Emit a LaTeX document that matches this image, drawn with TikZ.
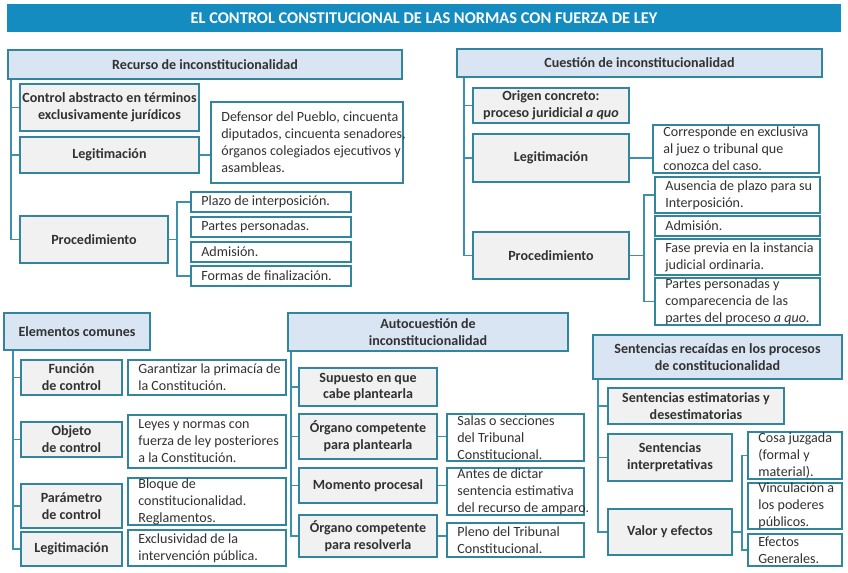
\documentclass[tikz,border=0pt]{standalone}
\usepackage{fontspec}
\setmainfont{Carlito}
\usetikzlibrary{calc}

\definecolor{ttlblue}{RGB}{20,140,192}
\definecolor{hdrblue}{RGB}{218,229,244}
\definecolor{keygray}{RGB}{241,241,241}
\definecolor{rimc}{RGB}{49,133,156}
\definecolor{wirec}{RGB}{62,145,172}
\definecolor{inkc}{RGB}{50,50,50}

\tikzset{
  cell/.style n args={4}{at={($(#1,#2)!0.5!(#3,#4)$)},
    minimum width={(#3-#1)*0.03cm}, minimum height={(#4-#2)*0.03cm}},
  box/.style={draw=rimc, line width=1.5pt, inner sep=0pt, align=center, text=inkc},
  ttl/.style={fill=ttlblue, inner sep=0pt, text=white, font=\fontsize{14}{16}\selectfont\bfseries},
  hdr/.style={box, fill=hdrblue, font=\fontsize{12}{14.5}\selectfont\bfseries},
  key/.style={box, fill=keygray, font=\fontsize{12}{14.5}\selectfont\bfseries},
  txt/.style={box, fill=white},
  note/.style={anchor=west, align=left, inner xsep=0.33cm, inner ysep=0pt, text=inkc, font=\fontsize{12}{14.5}\selectfont},
  wire/.style={draw=wirec, line width=1.2pt},
}

\begin{document}
\begin{tikzpicture}[x=0.03cm, y=-0.03cm]
  \useasboundingbox (0,0) rectangle (848,573);

  % title
  \node[ttl, cell={7}{4}{841}{32}] (ttl) {EL CONTROL CONSTITUCIONAL DE LAS NORMAS CON FUERZA DE LEY};

  % recurso de inconstitucionalidad
  \node[hdr, cell={8}{50}{402}{79}] (rec) {Recurso de inconstitucionalidad};
  \node[key, cell={20}{84}{199}{131}] (recabs) {Control abstracto en términos\\exclusivamente jurídicos};
  \node[key, cell={20}{137}{199}{173}] (recleg) {Legitimación};
  \node[txt, cell={211}{102}{403}{183}] (recdef) {};
  \node[note] (recdeft) at (recdef.west) {Defensor del Pueblo, cincuenta\\diputados, cincuenta senadores,\\órganos colegiados ejecutivos y\\asambleas.};
  \node[key, cell={20}{216}{168}{263}] (recproc) {Procedimiento};
  \node[txt, cell={191}{192}{351}{212}] (recplz) {};
  \node[note] (recplzt) at (recplz.west) {Plazo de interposición.};
  \node[txt, cell={191}{217}{351}{237}] (recpar) {};
  \node[note] (recpart) at (recpar.west) {Partes personadas.};
  \node[txt, cell={191}{242}{351}{262}] (recadm) {};
  \node[note] (recadmt) at (recadm.west) {Admisión.};
  \node[txt, cell={191}{266}{351}{286}] (recfin) {};
  \node[note] (recfint) at (recfin.west) {Formas de finalización.};

  \coordinate (rectr) at ($(rec.south west)+(4,0)$);
  \foreach \n in {recabs,recleg,recproc}
    \draw[wire] (rectr) |- (\n.west);
  \draw[wire] (recleg.east) -- (recleg.east -| recdef.west);
  \coordinate (recbr) at ($(recproc.east)+(8,0)$);
  \draw[wire] (recproc.east) -- (recbr);
  \draw[wire] (recplz.west) -| (recbr) |- (recfin.west);

  % cuestion de inconstitucionalidad
  \node[hdr, cell={457}{49}{822}{77}] (cue) {Cuestión de inconstitucionalidad};
  \node[key, cell={473}{88}{629}{123}] (cueori) {Origen concreto:\\proceso juridicial \textit{a quo}};
  \node[key, cell={473}{134}{629}{182}] (cueleg) {Legitimación};
  \node[txt, cell={653}{125}{819}{173}] (cuecor) {};
  \node[note] (cuecort) at (cuecor.west) {Corresponde en exclusiva\\al juez o tribunal que\\conozca del caso.};
  \node[key, cell={473}{232}{629}{279}] (cueproc) {Procedimiento};
  \node[txt, cell={655}{177}{820}{213}] (cueaus) {};
  \node[note] (cueaust) at (cueaus.west) {Ausencia de plazo para su\\Interposición.};
  \node[txt, cell={655}{216}{820}{236}] (cueadm) {};
  \node[note] (cueadmt) at (cueadm.west) {Admisión.};
  \node[txt, cell={655}{239}{820}{275}] (cuefas) {};
  \node[note] (cuefast) at (cuefas.west) {Fase previa en la instancia\\judicial ordinaria.};
  \node[txt, cell={655}{278}{820}{325}] (cuepar) {};
  \node[note] (cuepart) at (cuepar.west) {Partes personadas y\\comparecencia de las\\partes del proceso \textit{a quo}.};

  \coordinate (cuetr) at ($(cue.south west)+(8,0)$);
  \foreach \n in {cueori,cueleg,cueproc}
    \draw[wire] (cuetr) |- (\n.west);
  \draw[wire] (cueleg.east) -- (cueleg.east -| cuecor.west);
  \coordinate (cuebr) at ($(cueproc.east)+(14,0)$);
  \draw[wire] (cueproc.east) -- (cuebr);
  \draw[wire] (cueaus.west) -| (cuebr) |- (cuepar.west);

  % elementos comunes
  \node[hdr, cell={4}{313}{150}{350}] (elm) {Elementos comunes};
  \node[key, cell={21}{360}{122}{395}] (elmfun) {Función\\de control};
  \node[key, cell={21}{422}{122}{457}] (elmobj) {Objeto\\de control};
  \node[key, cell={21}{484}{122}{528}] (elmpar) {Parámetro\\de control};
  \node[key, cell={21}{532}{122}{566}] (elmleg) {Legitimación};
  \node[txt, cell={128}{360}{286}{395}] (elmgar) {};
  \node[note] (elmgart) at (elmgar.west) {Garantizar la primacía de\\la Constitución.};
  \node[txt, cell={128}{415}{286}{468}] (elmley) {};
  \node[note] (elmleyt) at (elmley.west) {Leyes y normas con\\fuerza de ley posteriores\\a la Constitución.};
  \node[txt, cell={128}{478}{286}{525}] (elmblo) {};
  \node[note] (elmblot) at (elmblo.west) {Bloque de\\constitucionalidad.\\Reglamentos.};
  \node[txt, cell={128}{530}{286}{566}] (elmexc) {};
  \node[note] (elmexct) at (elmexc.west) {Exclusividad de la\\intervención pública.};

  \coordinate (elmtr) at ($(elm.south west)+(10,0)$);
  \foreach \n in {elmfun,elmobj,elmpar,elmleg}
    \draw[wire] (elmtr) |- (\n.west);

  % autocuestion de inconstitucionalidad
  \node[hdr, cell={288}{313}{568}{351}] (aut) {Autocuestión de\\inconstitucionalidad};
  \node[key, cell={299}{368}{437}{406}] (autsup) {Supuesto en que\\cabe plantearla};
  \node[key, cell={299}{414}{437}{459}] (autpla) {Órgano competente\\para plantearla};
  \node[key, cell={299}{468}{437}{503}] (autmom) {Momento procesal};
  \node[key, cell={299}{515}{437}{557}] (autres) {Órgano competente\\para resolverla};
  \node[txt, cell={447}{414}{584}{461}] (autsal) {};
  \node[note] (autsalt) at (autsal.west) {Salas o secciones\\del Tribunal\\Constitucional.};
  \node[txt, cell={447}{468}{584}{515}] (autant) {};
  \node[note] (autantt) at (autant.west) {Antes de dictar\\sentencia estimativa\\del recurso de amparo.};
  \node[txt, cell={447}{523}{584}{557}] (autple) {};
  \node[note] (autplet) at (autple.west) {Pleno del Tribunal\\Constitucional.};

  \coordinate (auttr) at ($(aut.south west)+(4,0)$);
  \foreach \n in {autsup,autpla,autmom,autres}
    \draw[wire] (auttr) |- (\n.west);
  \draw[wire] (autpla.east) -- (autpla.east -| autsal.west);
  \draw[wire] (autmom.east) -- (autmom.east -| autant.west);
  \draw[wire] (autres.east) -- (autres.east -| autple.west);

  % sentencias
  \node[hdr, cell={593}{335}{842}{379}] (sen) {Sentencias recaídas en los procesos\\de constitucionalidad};
  \node[key, cell={608}{388}{784}{424}] (senest) {Sentencias estimatorias y\\desestimatorias};
  \node[key, cell={608}{434}{732}{481}] (senint) {Sentencias\\interpretativas};
  \node[key, cell={608}{509}{732}{555}] (senval) {Valor y efectos};
  \node[txt, cell={748}{432}{842}{479}] (sencos) {};
  \node[note] (sencost) at (sencos.west) {Cosa juzgada\\(formal y\\material).};
  \node[txt, cell={748}{483}{842}{529}] (senvin) {};
  \node[note] (senvint) at (senvin.west) {Vinculación a\\los poderes\\públicos.};
  \node[txt, cell={748}{534}{842}{566}] (senefe) {};
  \node[note] (senefet) at (senefe.west) {Efectos\\Generales.};

  \coordinate (sentr) at ($(sen.south west)+(6,0)$);
  \foreach \n in {senest,senint,senval}
    \draw[wire] (sentr) |- (\n.west);
  \coordinate (senbr) at ($(senval.east)+(9,0)$);
  \draw[wire] (senval.east) -- (senbr);
  \draw[wire] (sencos.west) -| (senbr) |- (senefe.west);
\end{tikzpicture}
\end{document}
